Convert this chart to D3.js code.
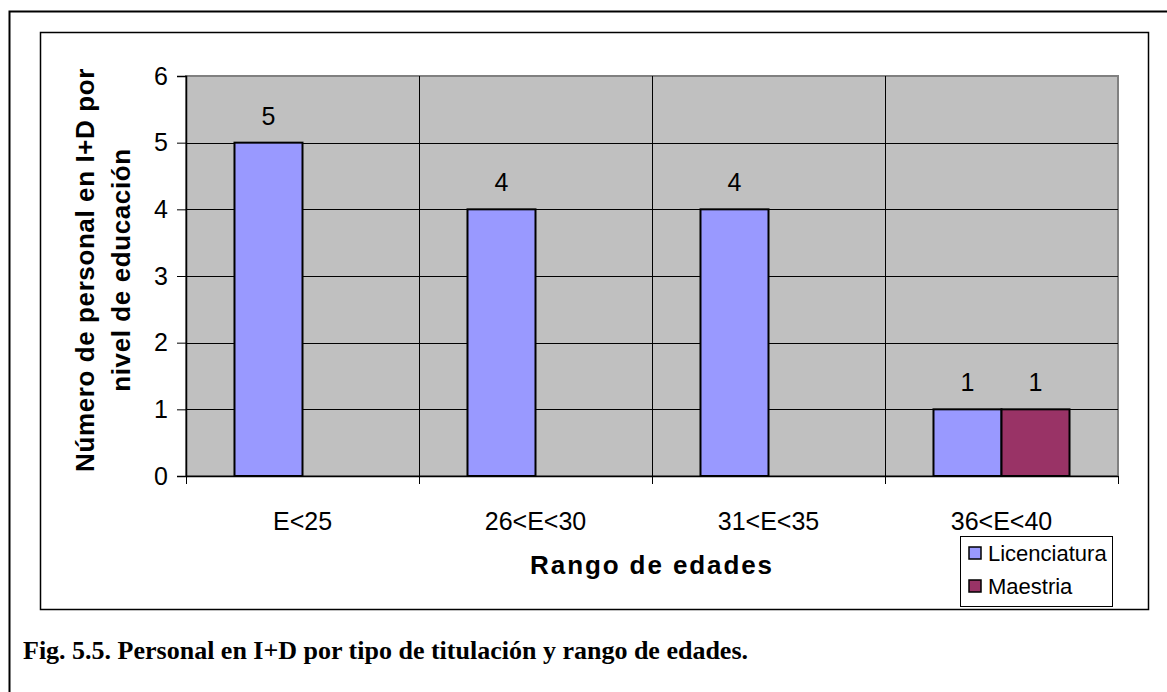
<!DOCTYPE html>
<html>
<head>
<meta charset="utf-8">
<script src="https://cdn.jsdelivr.net/npm/d3@7"></script>
<style>
  body { margin: 0; background: #fff; }
  text { font-family: "Liberation Sans", Arial, sans-serif; fill: #000; }
</style>
</head>
<body>
<svg class="chart"></svg>
<script>
var width = 1167, height = 692;

// data
var categories = ["E<25", "26<E<30", "31<E<35", "36<E<40"];
var series = ["Licenciatura", "Maestria"];
var licenciatura = [5, 4, 4, 1];
var maestria = [0, 0, 0, 1];
var yTicks = [0, 1, 2, 3, 4, 5, 6];
var colors = ["#9999ff", "#993366"];

var values = [licenciatura, maestria];

var chart = d3.select(".chart")
    .attr("width", width)
    .attr("height", height);

// frames
chart.append("rect")
    .attr("x", 9.5).attr("y", 11.5)
    .attr("width", 1170).attr("height", 700)
    .attr("fill", "none").attr("stroke", "#000").attr("stroke-width", 2);

chart.append("rect")
    .attr("x", 40.5).attr("y", 32.5)
    .attr("width", 1108).attr("height", 577)
    .attr("fill", "#fff").attr("stroke", "#000").attr("stroke-width", 1.5);

var plot = {left: 186, right: 1118, top: 76, bottom: 476};

var x0 = d3.scaleBand()
    .domain(categories)
    .range([plot.left, plot.right]);

var x1 = d3.scaleBand()
    .domain(series)
    .range([0, x0.bandwidth()])
    .paddingInner(0)
    .paddingOuter(0.713);

var y = d3.scaleLinear()
    .domain([0, 6])
    .range([plot.bottom, plot.top]);

// plot background
chart.append("rect")
    .attr("x", plot.left).attr("y", plot.top)
    .attr("width", plot.right - plot.left).attr("height", plot.bottom - plot.top)
    .attr("fill", "#c0c0c0")
    .attr("stroke", "#808080").attr("stroke-width", 2);

// horizontal gridlines
chart.append("g")
    .selectAll("line")
    .data(yTicks.slice(1, -1))
    .enter().append("line")
    .attr("x1", plot.left).attr("x2", plot.right)
    .attr("y1", function(d) { return Math.round(y(d)) + 0.5; })
    .attr("y2", function(d) { return Math.round(y(d)) + 0.5; })
    .attr("stroke", "#000").attr("stroke-width", 1.2);

// vertical gridlines between categories
chart.append("g")
    .selectAll("line")
    .data(categories.slice(1))
    .enter().append("line")
    .attr("x1", function(d) { return Math.round(x0(d)) + 0.5; })
    .attr("x2", function(d) { return Math.round(x0(d)) + 0.5; })
    .attr("y1", plot.top).attr("y2", plot.bottom)
    .attr("stroke", "#000").attr("stroke-width", 1);

// bars
var rows = categories.map(function(c, i) {
    return series.map(function(s, j) { return {cat: c, ser: s, j: j, v: values[j][i]}; });
});

var bar = chart.selectAll("g.cat")
    .data(rows)
    .enter().append("g")
    .attr("class", "cat")
    .attr("transform", function(d, i) { return "translate(" + x0(categories[i]) + ",0)"; })
    .selectAll("g")
    .data(function(d) { return d.filter(function(e) { return e.v > 0; }); })
    .enter().append("g");

bar.append("rect")
    .attr("x", function(d) { return x1(d.ser); })
    .attr("y", function(d) { return y(d.v); })
    .attr("width", x1.bandwidth())
    .attr("height", function(d) { return y(0) - y(d.v); })
    .attr("fill", function(d) { return colors[d.j]; })
    .attr("stroke", "#000").attr("stroke-width", 2);

bar.append("text")
    .attr("x", function(d) { return x1(d.ser) + x1.bandwidth() / 2; })
    .attr("y", function(d) { return y(d.v) - 18; })
    .attr("text-anchor", "middle")
    .style("font-size", "25px")
    .text(function(d) { return d.v; });

// y axis
var y_axis = d3.axisLeft(y)
    .tickValues(yTicks)
    .tickSize(9)
    .tickPadding(9)
    .tickFormat(d3.format("d"));

var gy = chart.append("g")
    .attr("transform", "translate(" + plot.left + ",0)")
    .call(y_axis);
gy.select(".domain").attr("stroke", "#000").attr("stroke-width", 1.5);
gy.selectAll("text").style("font-size", "25px").style("font-family", "Liberation Sans, Arial, sans-serif");

// x axis: labels at centers, ticks at boundaries
var x_axis = d3.axisBottom(x0).tickSize(0).tickPadding(36);
var gx = chart.append("g")
    .attr("transform", "translate(0," + plot.bottom + ")")
    .call(x_axis);
gx.select(".domain").attr("stroke", "#000").attr("stroke-width", 1.5);
gx.selectAll("text").style("font-size", "25px").style("font-family", "Liberation Sans, Arial, sans-serif");

chart.append("g")
    .selectAll("line")
    .data(categories.concat(["end"]))
    .enter().append("line")
    .attr("x1", function(d, i) { return Math.round(i < categories.length ? x0(d) : plot.right) + 0.5; })
    .attr("x2", function(d, i) { return Math.round(i < categories.length ? x0(d) : plot.right) + 0.5; })
    .attr("y1", plot.bottom).attr("y2", plot.bottom + 8)
    .attr("stroke", "#000");

// axis titles
chart.append("text")
    .attr("x", (plot.left + plot.right) / 2)
    .attr("y", 574)
    .attr("text-anchor", "middle")
    .style("font-size", "26px").style("font-weight", "bold").style("letter-spacing", "1.9px")
    .text("Rango de edades");

var yTitle = chart.append("text")
    .attr("transform", "translate(94,270) rotate(-90)")
    .attr("text-anchor", "middle")
    .style("font-size", "26px").style("font-weight", "bold").style("letter-spacing", "0.6px");
yTitle.append("tspan").attr("x", 0).attr("y", 0).text("Número de personal en I+D por");
yTitle.append("tspan").attr("x", 0).attr("y", 36).text("nivel de educación");

// legend
var legend = chart.append("g").attr("transform", "translate(960,536)");
legend.append("rect")
    .attr("x", 0.5).attr("y", 0.5).attr("width", 152).attr("height", 70)
    .attr("fill", "#fff").attr("stroke", "#000").attr("stroke-width", 1);
var item = legend.selectAll("g")
    .data(series)
    .enter().append("g")
    .attr("transform", function(d, i) { return "translate(9," + (11 + i * 33) + ")"; });
item.append("rect")
    .attr("width", 12).attr("height", 12)
    .attr("fill", function(d, i) { return colors[i]; })
    .attr("stroke", "#000").attr("stroke-width", 1.5);
item.append("text")
    .attr("x", 19).attr("y", 14)
    .style("font-size", "22px")
    .text(function(d) { return d; });

// caption
chart.append("text")
    .attr("x", 23).attr("y", 659)
    .style("font-family", "Liberation Serif, Times New Roman, serif")
    .style("font-size", "26px").style("font-weight", "bold")
    .text("Fig. 5.5. Personal en I+D por tipo de titulación y rango de edades.");
</script>
</body>
</html>
